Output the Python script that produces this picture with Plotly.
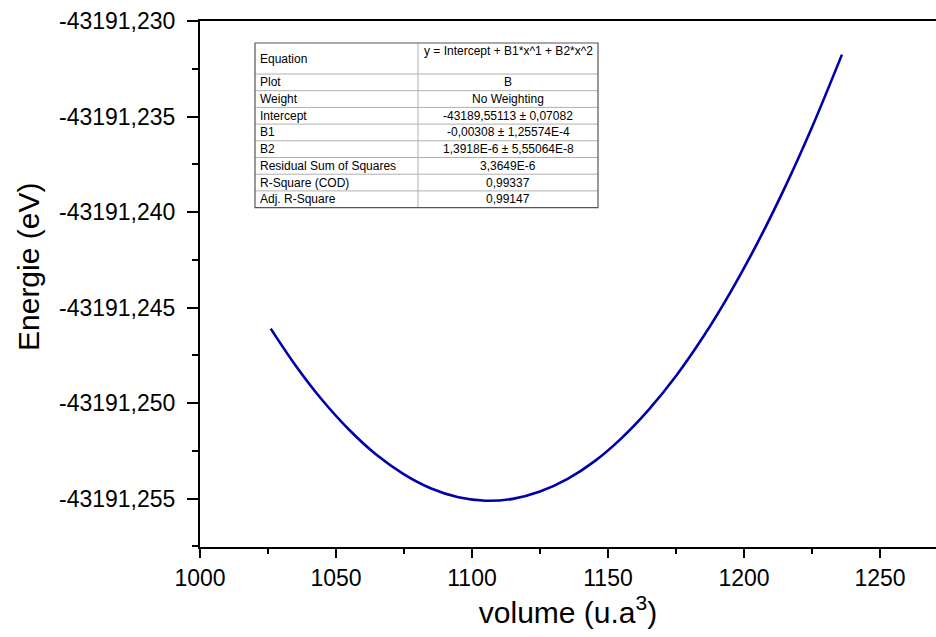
import plotly.graph_objects as go

# ---- data ----
volume = [1026, 1035, 1045, 1055, 1065, 1075, 1085, 1095, 1105, 1115, 1125,
          1135, 1145, 1155, 1165, 1175, 1185, 1195, 1205, 1215, 1225, 1236]
energie = [-43191.24610, -43191.24800, -43191.24985, -43191.25142, -43191.25272,
           -43191.25373, -43191.25447, -43191.25493, -43191.25511, -43191.25501,
           -43191.25463, -43191.25398, -43191.25305, -43191.25183, -43191.25034,
           -43191.24858, -43191.24653, -43191.24420, -43191.24160, -43191.23872,
           -43191.23556, -43191.23176]

x_tickvals = [1000, 1050, 1100, 1150, 1200, 1250]
x_minor = [1025, 1075, 1125, 1175, 1225]
y_tickvals = [-43191.230, -43191.235, -43191.240, -43191.245, -43191.250, -43191.255]
y_ticktext = ["-43191,230", "-43191,235", "-43191,240", "-43191,245", "-43191,250", "-43191,255"]
y_minor = [-43191.2325, -43191.2375, -43191.2425, -43191.2475, -43191.2525, -43191.2575]

x_title = "volume (u.a<sup>3</sup>)"
y_title = "Energie (eV)"

table_labels = ["Equation", "Plot", "Weight", "Intercept", "B1", "B2",
                "Residual Sum of Squares", "R-Square (COD)", "Adj. R-Square"]
table_values = ["y = Intercept + B1*x^1 + B2*x^2", "B", "No Weighting",
                "-43189,55113 ± 0,07082", "-0,00308 ± 1,25574E-4",
                "1,3918E-6 ± 5,55064E-8", "3,3649E-6", "0,99337", "0,99147"]

# ---- layout geometry (pixels) ----
W, H = 936, 637
L, R, T, B = 200, 0, 21, 90
pw, ph = W - L - R, H - T - B


def px(x):
    return (x - L) / pw


def py(y):
    return (H - B - y) / ph


FONT = "Liberation Sans, Arial, sans-serif"

fig = go.Figure()
fig.add_trace(go.Scatter(x=volume, y=energie, mode="lines",
                         line=dict(color="#0000a8", width=2.6, shape="spline"),
                         showlegend=False, hoverinfo="skip"))

fig.update_layout(
    width=W, height=H,
    margin=dict(l=L, r=R, t=T, b=B),
    paper_bgcolor="white", plot_bgcolor="white",
    font=dict(family=FONT, color="black"),
    xaxis=dict(range=[1000, 1000 + 736 / 2.72], tickvals=x_tickvals,
               ticks="outside", ticklen=9, tickwidth=1.5, tickcolor="black",
               showline=True, linewidth=2, linecolor="black", mirror=True,
               showgrid=False, zeroline=False,
               tickfont=dict(size=23, family=FONT),
               minor=dict(tickvals=x_minor, ticks="outside", ticklen=5,
                          tickwidth=1.5, tickcolor="black", showgrid=False),
               title=dict(text=x_title, font=dict(size=30, family=FONT),
                          standoff=12)),
    yaxis=dict(range=[-43191.25753, -43191.230], tickvals=y_tickvals, ticktext=y_ticktext,
               ticks="outside", ticklen=11, tickwidth=1.5, tickcolor="black",
               ticklabelstandoff=7,
               showline=True, linewidth=2, linecolor="black", mirror=False,
               showgrid=False, zeroline=False,
               tickfont=dict(size=23, family=FONT),
               minor=dict(tickvals=y_minor, ticks="outside", ticklen=6,
                          tickwidth=1.5, tickcolor="black", showgrid=False)),
)

# ---- fit table ----
tx0, tx1, tmid = 255, 598, 418
ty0 = 43
eq_h = 31
row_h = 16.7
row_tops = [ty0] + [ty0 + eq_h + i * row_h for i in range(len(table_labels) - 1)]
ty1 = row_tops[-1] + row_h

shapes = []
for yt in row_tops[1:]:
    shapes.append(dict(type="line", xref="paper", yref="paper",
                       x0=px(tx0), x1=px(tx1), y0=py(yt), y1=py(yt),
                       line=dict(color="#b0b0b0", width=1)))
shapes.append(dict(type="line", xref="paper", yref="paper",
                   x0=px(tmid), x1=px(tmid), y0=py(ty0), y1=py(ty1),
                   line=dict(color="#b0b0b0", width=1)))
shapes.append(dict(type="rect", xref="paper", yref="paper",
                   x0=px(tx0), x1=px(tx1), y0=py(ty0), y1=py(ty1),
                   line=dict(color="#555555", width=1.2), fillcolor="rgba(0,0,0,0)"))

annotations = []
for i, (lab, val) in enumerate(zip(table_labels, table_values)):
    top = row_tops[i]
    h = eq_h if i == 0 else row_h
    yc = top + h / 2
    annotations.append(dict(xref="paper", yref="paper", x=px(tx0 + 3), y=py(yc),
                            text=lab, showarrow=False, xanchor="left", yanchor="middle",
                            font=dict(size=12, family=FONT, color="black")))
    vy = top + 8 if i == 0 else yc
    annotations.append(dict(xref="paper", yref="paper", x=px((tmid + tx1) / 2), y=py(vy),
                            text=val, showarrow=False, xanchor="center", yanchor="middle",
                            font=dict(size=12, family=FONT, color="black")))

# y-axis title placed as rotated annotation
annotations.append(dict(xref="paper", yref="paper", x=px(28), y=py(267),
                        text=y_title, textangle=-90, showarrow=False,
                        xanchor="center", yanchor="middle",
                        font=dict(size=30, family=FONT, color="black")))

fig.update_layout(shapes=shapes, annotations=annotations)
fig.write_html("out.html")
